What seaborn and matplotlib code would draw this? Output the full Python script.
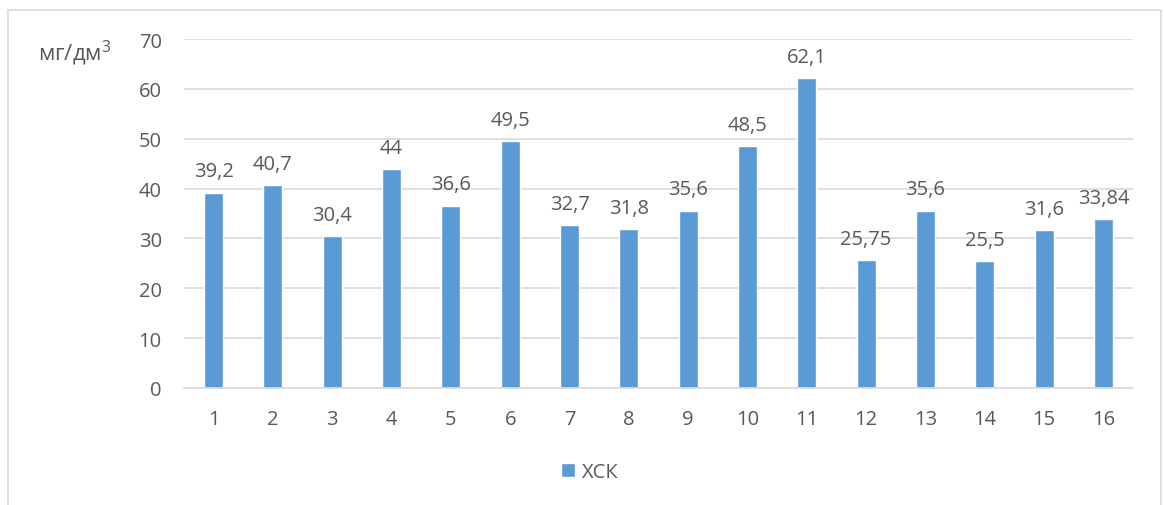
import matplotlib
matplotlib.use("Agg")
import matplotlib.pyplot as plt
from matplotlib.patches import Rectangle
import seaborn as sns
import pandas as pd

# Sample numbers and measured ХСК values (mg/dm³)
samples = ["1", "2", "3", "4", "5", "6", "7", "8", "9", "10", "11", "12", "13", "14", "15", "16"]
values = [39.2, 40.7, 30.4, 44, 36.6, 49.5, 32.7, 31.8, 35.6, 48.5, 62.1, 25.75, 35.6, 25.5, 31.6, 33.84]
value_labels = ["39,2", "40,7", "30,4", "44", "36,6", "49,5", "32,7", "31,8", "35,6", "48,5",
                "62,1", "25,75", "35,6", "25,5", "31,6", "33,84"]
series_name = "ХСК"
y_ticks = [0, 10, 20, 30, 40, 50, 60, 70]

bar_color = "#5B9BD5"
text_color = "#595959"
grid_color = "#D9D9D9"
fs = 14.5

sns.set_theme(style="white")
plt.rcParams["font.family"] = ["Open Sans", "DejaVu Sans"]
plt.rcParams["mathtext.fontset"] = "custom"
plt.rcParams["mathtext.rm"] = "Open Sans"
plt.rcParams["mathtext.it"] = "Open Sans"

df = pd.DataFrame({"sample": samples, "value": values, "series": series_name})

fig = plt.figure(figsize=(11.65, 5.06), dpi=100)
ax = fig.add_axes([184 / 1165, 1 - 389 / 506, (1133 - 184) / 1165, (389 - 40) / 506])

sns.barplot(data=df, x="sample", y="value", hue="series", palette=[bar_color],
            width=0.32, ax=ax, legend=True, saturation=1)

ax.set_ylim(0, 70)
ax.set_xlim(-0.5, len(samples) - 0.5)
ax.set_yticks(y_ticks)
ax.set_yticklabels([str(t) for t in y_ticks])
ax.yaxis.grid(True, color=grid_color, linewidth=1.2)
ax.set_axisbelow(True)
for side in ["left", "right", "top"]:
    ax.spines[side].set_visible(False)
ax.spines["bottom"].set_color(grid_color)
ax.spines["bottom"].set_linewidth(1.2)
ax.tick_params(axis="both", length=0, colors=text_color, labelsize=fs)
ax.tick_params(axis="x", pad=15)
ax.tick_params(axis="y", pad=16)
ax.set_xlabel("")
ax.set_ylabel("")

for container in ax.containers:
    ax.bar_label(container, labels=value_labels, padding=8, color=text_color, fontsize=fs)

# Legend at the bottom centre
handles, labels = ax.get_legend_handles_labels()
ax.legend(handles, labels, loc="center", bbox_to_anchor=(590 / 1165, 1 - 473 / 506),
          bbox_transform=fig.transFigure, frameon=False, fontsize=fs,
          handlelength=0.7, handleheight=0.7, handletextpad=0.35, labelcolor=text_color)

# Unit label
fig.text(38 / 1165, 1 - 53 / 506, "мг/дм$^3$", color=text_color, fontsize=16, va="center", ha="left")

# Chart border
fig.patches.append(Rectangle((8 / 1165, -0.02), (1161 - 8) / 1165, 1 - 11 / 506 + 0.02,
                             transform=fig.transFigure, fill=False,
                             edgecolor=grid_color, linewidth=1.2))

fig.savefig("out.png", dpi=100, facecolor="white")
